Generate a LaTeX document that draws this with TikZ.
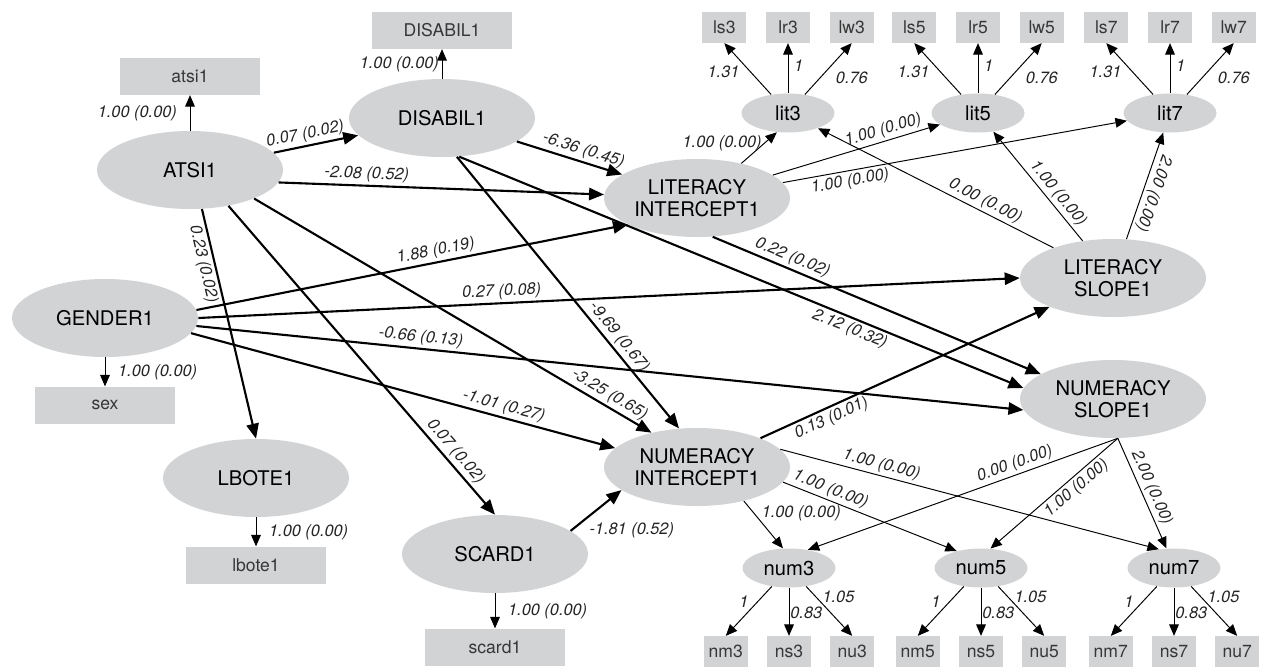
\documentclass[tikz,border=0pt]{standalone}
\usepackage{fontspec}
\setmainfont{TeX Gyre Heros}
\usepackage{tikz}
\usetikzlibrary{arrows.meta,positioning,shapes.geometric}

\definecolor{semgray}{RGB}{209,211,212}
\definecolor{boxtext}{RGB}{55,55,55}
\definecolor{coeftext}{RGB}{35,35,35}

\tikzset{
  latent/.style={ellipse, fill=semgray, minimum width=37.2mm, minimum height=15.6mm,
    inner sep=0pt, align=center, font=\fontsize{11.5}{12.5}\selectfont},
  wave/.style={ellipse, fill=semgray, minimum width=18.6mm, minimum height=7.8mm,
    inner sep=0pt, font=\fontsize{11.5}{12.5}\selectfont},
  obs/.style={rectangle, fill=semgray, minimum width=28mm, minimum height=7.4mm,
    inner sep=0pt, text=boxtext, font=\fontsize{10}{12}\selectfont},
  ind/.style={obs, minimum width=8.8mm, minimum height=6.2mm},
  reg/.style={-{Triangle[length=8.5pt,width=7pt]}, line width=1.2pt},
  load/.style={-{Triangle[length=6.5pt,width=5.5pt]}, line width=0.55pt},
  coef/.style={font=\fontsize{9.3}{11}\selectfont\itshape, text=coeftext, inner sep=1.5pt},
}

\begin{document}
\begin{tikzpicture}[x=0.2mm, y=-0.2mm]
	\useasboundingbox (0,0) rectangle (1262,666);

	% Draw the latent variables
	\node[latent] (ATSI)   at (190,170)  {ATSI1};
	\node[latent] (DIS)    at (442,118)  {DISABIL1};
	\node[latent] (GEN)    at (105,318)  {GENDER1};
	\node[latent] (LBOTE)  at (256,478)  {LBOTE1};
	\node[latent] (SCARD)  at (495,554)  {SCARD1};
	\node[latent] (LITINT) at (697,198)  {LITERACY\\INTERCEPT1};
	\node[latent] (NUMINT) at (697,467)  {NUMERACY\\INTERCEPT1};
	\node[latent] (LSLOPE) at (1113,278) {LITERACY\\SLOPE1};
	\node[latent] (NSLOPE) at (1113,399) {NUMERACY\\SLOPE1};

	% Draw the waves
	\node[wave] (lit3) at (788,113)  {lit3};
	\node[wave] (lit5) at (978,113)  {lit5};
	\node[wave] (lit7) at (1170,113) {lit7};
	\node[wave] (num3) at (789,568)  {num3};
	\node[wave] (num5) at (981,568)  {num5};
	\node[wave] (num7) at (1174,568) {num7};

	% Draw the observed variables
	\node[obs, above=7.1mm of ATSI]  (atsi1)  {atsi1};
	\node[obs, above=5.9mm of DIS]   (disbox) {DISABIL1};
	\node[obs, below=5.8mm of GEN]   (sex)    {sex};
	\node[obs, below=5.8mm of LBOTE] (lbote1) {lbote1};
	\node[obs, below=7mm of SCARD]   (scard1) {scard1};

	\node[ind, above=10mm of lit3] (lr3) {lr3};
	\node[ind, left=3.8mm of lr3]  (ls3) {ls3};
	\node[ind, right=3.8mm of lr3] (lw3) {lw3};
	\node[ind, above=10mm of lit5] (lr5) {lr5};
	\node[ind, left=3.8mm of lr5]  (ls5) {ls5};
	\node[ind, right=3.8mm of lr5] (lw5) {lw5};
	\node[ind, above=10mm of lit7] (lr7) {lr7};
	\node[ind, left=3.8mm of lr7]  (ls7) {ls7};
	\node[ind, right=3.8mm of lr7] (lw7) {lw7};

	\node[ind, below=9.6mm of num3] (ns3) {ns3};
	\node[ind, left=3.7mm of ns3]   (nm3) {nm3};
	\node[ind, right=3.7mm of ns3]  (nu3) {nu3};
	\node[ind, below=9.6mm of num5] (ns5) {ns5};
	\node[ind, left=3.7mm of ns5]   (nm5) {nm5};
	\node[ind, right=3.7mm of ns5]  (nu5) {nu5};
	\node[ind, below=9.6mm of num7] (ns7) {ns7};
	\node[ind, left=3.7mm of ns7]   (nm7) {nm7};
	\node[ind, right=3.7mm of ns7]  (nu7) {nu7};

	% Structural paths
	\draw
		(ATSI) edge[reg] node[coef, sloped, above, pos=0.4] {0.07 (0.02)} (DIS)
		(ATSI.-8) edge[reg] node[coef, sloped, above, pos=0.27] {-2.08 (0.52)} (LITINT)
		(ATSI.-73) edge[reg] node[coef, sloped, below, pos=0.23] {0.23 (0.02)} (LBOTE.north)
		(ATSI.-43) edge[reg] node[coef, sloped, above, pos=0.82] {0.07 (0.02)} (SCARD.north)
		(ATSI.-24) edge[reg] node[coef, sloped, above, pos=0.88] {-3.25 (0.65)} (NUMINT.143);
	\draw
		(DIS) edge[reg] node[coef, sloped, above, pos=0.6] {-6.36 (0.45)} (LITINT)
		(DIS.-69) edge[reg] node[coef, sloped, above, pos=0.69] {-9.69 (0.67)} (NUMINT.115)
		(DIS.-66) edge[reg] node[coef, sloped, below, pos=0.7] {2.12 (0.32)} (NSLOPE.173);
	\draw
		(GEN.5) edge[reg] node[coef, sloped, above, pos=0.56] {1.88 (0.19)} (LITINT.201)
		(GEN.0) edge[reg] node[coef, sloped, above, pos=0.37] {0.27 (0.08)} (LSLOPE.180)
		(GEN.-5) edge[reg] node[coef, sloped, above, pos=0.27] {-0.66 (0.13)} (NSLOPE.187)
		(GEN.-10) edge[reg] node[coef, sloped, above, pos=0.73] {-1.01 (0.27)} (NUMINT.167);
	\draw
		(SCARD.17) edge[reg] node[coef, anchor=north west, pos=0.3] {-1.81 (0.52)} (NUMINT.197)
		(NUMINT) edge[reg] node[coef, sloped, below, pos=0.23] {0.13 (0.01)} (LSLOPE)
		(LITINT.-68) edge[reg] node[coef, sloped, above, pos=0.23] {0.22 (0.02)} (NSLOPE.161);

	% Measurement of the covariates
	\draw
		(ATSI) edge[load] node[coef, left=2mm] {1.00 (0.00)} (atsi1)
		(DIS) edge[load] node[coef, left] {1.00 (0.00)} (disbox)
		(GEN) edge[load] node[coef, right=2mm] {1.00 (0.00)} (sex)
		(LBOTE) edge[load] node[coef, right=2mm] {1.00 (0.00)} (lbote1)
		(SCARD) edge[load] node[coef, right=2mm] {1.00 (0.00)} (scard1);

	% Growth loadings
	\draw
		(LITINT.38) edge[load] node[coef, left, pos=0.66] {1.00 (0.00)} (lit3.240)
		(LITINT) edge[load] node[coef, sloped, above, pos=0.68] {1.00 (0.00)} (lit5)
		(LITINT) edge[load] node[coef, sloped, below, pos=0.19] {1.00 (0.00)} (lit7)
		(LSLOPE) edge[load] node[coef, sloped, above, pos=0.31] {0.00 (0.00)} (lit3)
		(LSLOPE) edge[load] node[coef, sloped, above, pos=0.37] {1.00 (0.00)} (lit5)
		(LSLOPE) edge[load] node[coef, sloped, rotate=180, above, pos=0.46] {2.00 (0.00)} (lit7);
	\draw
		(NUMINT.-36) edge[load] node[coef, right=1mm, pos=0.25] {1.00 (0.00)} (num3.107)
		(NUMINT.-10) edge[load] node[coef, sloped, above, pos=0.25] {1.00 (0.00)} (num5.145)
		(NUMINT.12) edge[load] node[coef, sloped, above, pos=0.26] {1.00 (0.00)} (num7.129)
		(NSLOPE.-83) edge[load] node[coef, sloped, above, pos=0.32] {0.00 (0.00)} (num3.44)
		(NSLOPE.-83) edge[load] node[coef, sloped, below, pos=0.38] {1.00 (0.00)} (num5.64)
		(NSLOPE.-83) edge[load] node[coef, sloped, above, pos=0.49] {2.00 (0.00)} (num7.111);

	% Indicators of each wave
	\draw
		(lit3) edge[load] node[coef, left=1.5mm, pos=0.45] {1.31} (ls3.south)
		(lit3) edge[load] node[coef, right=0.6mm, pos=0.55] {1} (lr3)
		(lit3) edge[load] node[coef, right=2.5mm, pos=0.33] {0.76} (lw3.south)
		(lit5) edge[load] node[coef, left=1.5mm, pos=0.45] {1.31} (ls5.south)
		(lit5) edge[load] node[coef, right=0.6mm, pos=0.55] {1} (lr5)
		(lit5) edge[load] node[coef, right=2.5mm, pos=0.33] {0.76} (lw5.south)
		(lit7) edge[load] node[coef, left=1.5mm, pos=0.45] {1.31} (ls7.south)
		(lit7) edge[load] node[coef, right=0.6mm, pos=0.55] {1} (lr7)
		(lit7) edge[load] node[coef, right=2.5mm, pos=0.33] {0.76} (lw7.south);
	\draw
		(num3) edge[load] node[coef, left=1.2mm, pos=0.31] {1} (nm3.north)
		(num3) edge[load] node[coef, right, inner sep=0.5pt, pos=0.52] {0.83} (ns3)
		(num3) edge[load] node[coef, right=0.8mm, pos=0.2] {1.05} (nu3.north)
		(num5) edge[load] node[coef, left=1.2mm, pos=0.31] {1} (nm5.north)
		(num5) edge[load] node[coef, right, inner sep=0.5pt, pos=0.52] {0.83} (ns5)
		(num5) edge[load] node[coef, right=0.8mm, pos=0.2] {1.05} (nu5.north)
		(num7) edge[load] node[coef, left=1.2mm, pos=0.31] {1} (nm7.north)
		(num7) edge[load] node[coef, right, inner sep=0.5pt, pos=0.52] {0.83} (ns7)
		(num7) edge[load] node[coef, right=0.8mm, pos=0.2] {1.05} (nu7.north);
\end{tikzpicture}
\end{document}
